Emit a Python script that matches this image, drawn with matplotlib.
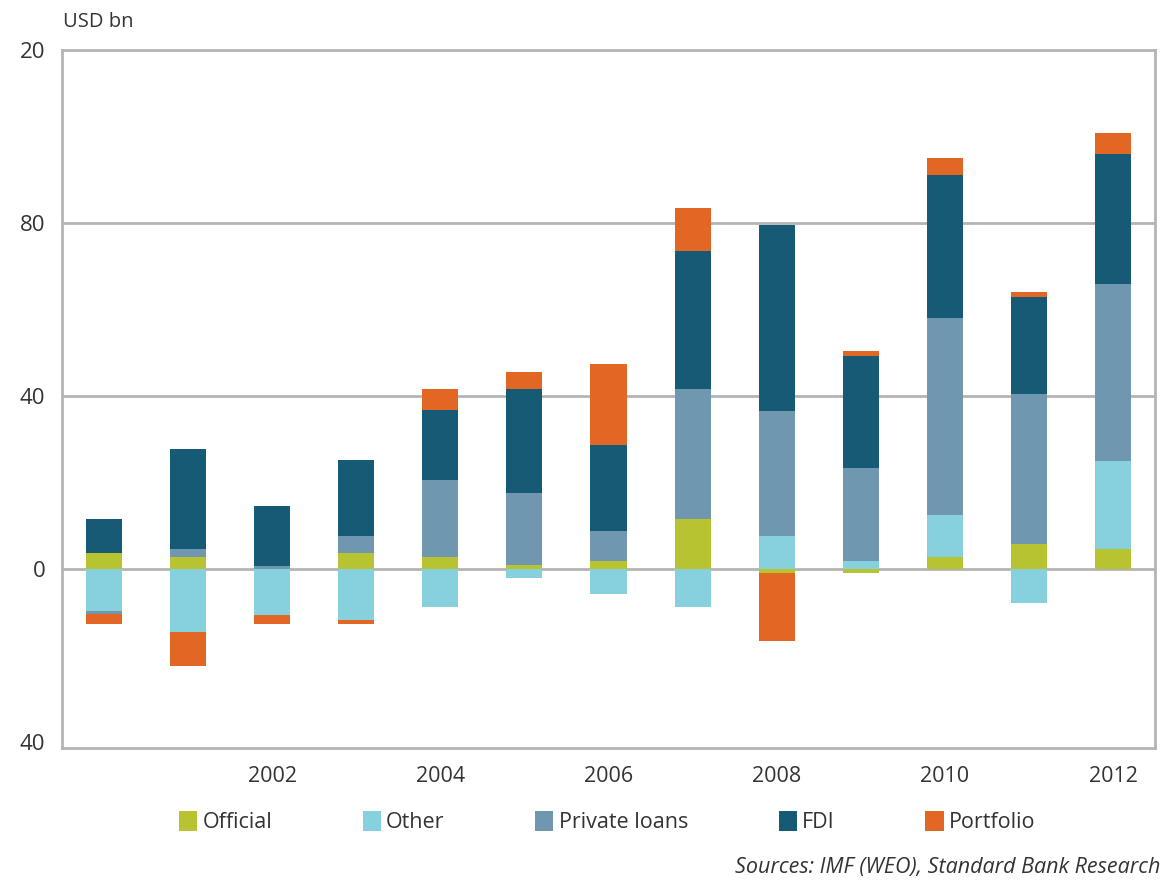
import matplotlib
matplotlib.use("Agg")
import matplotlib.pyplot as plt
from matplotlib.patches import Patch
import numpy as np

plt.rcParams['font.family'] = ['Open Sans', 'DejaVu Sans']

# Capital flows, USD bn
years = [2000, 2001, 2002, 2003, 2004, 2005, 2006, 2007, 2008, 2009, 2010, 2011, 2012]
official = [3.6, 2.7, 0.0, 3.6, 2.8, 0.9, 1.8, 11.6, -1.0, -1.1, 2.7, 5.6, 4.5]
other = [-9.7, -14.7, -10.8, -11.8, -8.8, -2.1, -5.9, -8.8, 7.5, 1.7, 9.8, -8.0, 20.5]
private_loans = [-0.9, 1.9, 0.7, 3.9, 17.6, 16.5, 6.8, 29.9, 29.0, 21.5, 45.5, 34.9, 40.8]
fdi = [8.0, 23.1, 13.7, 17.6, 16.2, 24.1, 20.1, 32.1, 42.9, 26.0, 33.0, 22.3, 30.2]
portfolio = [-2.2, -7.9, -2.0, -1.0, 5.0, 4.0, 18.6, 9.8, -15.7, 1.2, 4.1, 1.1, 4.9]

series_names = ['Official', 'Other', 'Private loans', 'FDI', 'Portfolio']
series_values = [official, other, private_loans, fdi, portfolio]
series_colors = ['#B7C330', '#87D1DF', '#6F97AF', '#175A75', '#E36724']

x_tick_years = [2002, 2004, 2006, 2008, 2010, 2012]
y_ticks = [-40, 0, 40, 80, 120]
y_tick_labels = ['40', '0', '40', '80', '20']

text_color = '#333333'
line_color = '#B4B4B6'

fig = plt.figure(figsize=(11.63, 8.83), dpi=100)
ax = fig.add_axes([62 / 1163, 1 - 748 / 883, (1155 - 62) / 1163, (748 - 50) / 883])

x = np.array(years, dtype=float)
pos_base = np.zeros(len(years))
neg_base = np.zeros(len(years))
for vals, color in zip(series_values, series_colors):
    v = np.array(vals, dtype=float)
    bottoms = np.where(v >= 0, pos_base, neg_base)
    ax.bar(x, v, width=0.43, bottom=bottoms, color=color, edgecolor='none', zorder=3)
    pos_base += np.where(v >= 0, v, 0)
    neg_base += np.where(v < 0, v, 0)

ax.set_xlim(1999.5, 2012.5)
ax.set_ylim(-41.5, 120)

for yv in (0, 40, 80):
    ax.axhline(yv, color=line_color, lw=2.0, zorder=2)

for side in ('left', 'right', 'top', 'bottom'):
    ax.spines[side].set_color(line_color)
    ax.spines[side].set_linewidth(2.0)

ax.set_yticks(y_ticks)
ax.set_yticklabels(y_tick_labels)
ax.set_xticks(x_tick_years)
ax.set_xticklabels([str(y) for y in x_tick_years])
ax.tick_params(axis='both', length=0, labelcolor=text_color)
ax.tick_params(axis='y', pad=12, labelsize=16)
ax.tick_params(axis='x', pad=13, labelsize=15.5)

fig.text(63 / 1163, 1 - 22 / 883, 'USD bn', ha='left', va='center',
         fontsize=14.5, color=text_color)

handles = [Patch(facecolor=c, edgecolor='none') for c in series_colors]
fig.legend(handles, series_names, loc='center', bbox_to_anchor=(0.522, 1 - 822 / 883),
           ncol=5, frameon=False, fontsize=15.5, handlelength=0.85, handleheight=1.1,
           handletextpad=0.25, columnspacing=4.2, labelcolor=text_color)

fig.text(1160 / 1163, 1 - 868 / 883, 'Sources: IMF (WEO), Standard Bank Research',
         ha='right', va='center', fontsize=15.5, style='italic', color=text_color)

fig.savefig('out.png', dpi=100)
